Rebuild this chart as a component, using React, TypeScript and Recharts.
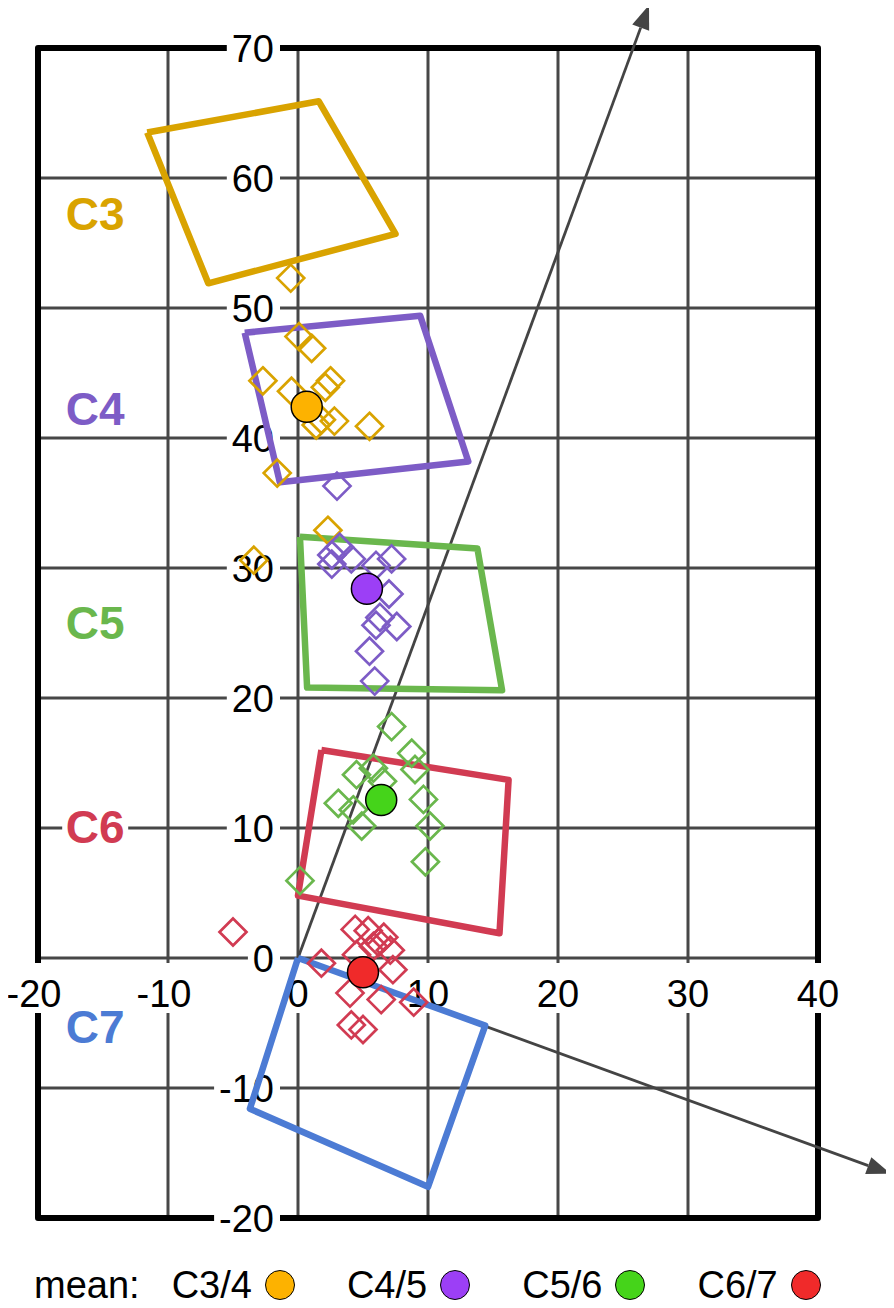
import {
  CartesianGrid,
  ReferenceArea,
  ReferenceLine,
  Scatter,
  ScatterChart,
  XAxis,
  YAxis,
} from "recharts";

// ---------------------------------------------------------------------------
// Data
// ---------------------------------------------------------------------------

const X_TICKS = [-20, -10, 0, 10, 20, 30, 40];
const Y_TICKS = [-20, -10, 0, 10, 20, 30, 40, 50, 60, 70];

// corners of each zone outline
const zoneC3 = [
  { x: -11.6, y: 63.5 },
  { x: 1.6, y: 65.9 },
  { x: 7.5, y: 55.7 },
  { x: -6.9, y: 51.9 },
];
const zoneC4 = [
  { x: -4.1, y: 48.1 },
  { x: 9.4, y: 49.4 },
  { x: 13.1, y: 38.2 },
  { x: -1.4, y: 36.6 },
];
const zoneC5 = [
  { x: 0.15, y: 32.4 },
  { x: 13.8, y: 31.5 },
  { x: 15.7, y: 20.6 },
  { x: 0.7, y: 20.8 },
];
const zoneC6 = [
  { x: 1.8, y: 16.0 },
  { x: 16.2, y: 13.7 },
  { x: 15.5, y: 1.9 },
  { x: 0, y: 4.8 },
];
const zoneC7 = [
  { x: 0, y: 0 },
  { x: 14.4, y: -5.2 },
  { x: 10, y: -17.6 },
  { x: -3.7, y: -11.6 },
];

const zoneLabels = [
  { x: -15.6, y: 57.3, name: "C3" },
  { x: -15.6, y: 42.3, name: "C4" },
  { x: -15.6, y: 25.8, name: "C5" },
  { x: -15.6, y: 10.1, name: "C6" },
  { x: -15.6, y: -5.3, name: "C7" },
];

const c34Points = [
  { x: -0.56, y: 52.3 },
  { x: 0.08, y: 47.8 },
  { x: 1.05, y: 46.9 },
  { x: -2.7, y: 44.4 },
  { x: -0.5, y: 43.6 },
  { x: 2.5, y: 44.4 },
  { x: 2.1, y: 43.9 },
  { x: 1.8, y: 41.4 },
  { x: 1.4, y: 41.0 },
  { x: 2.8, y: 41.3 },
  { x: 5.5, y: 40.9 },
  { x: -1.6, y: 37.3 },
  { x: 2.3, y: 32.9 },
  { x: -3.4, y: 30.6 },
];

const c45Points = [
  { x: 3.0, y: 36.3 },
  { x: 3.2, y: 31.6 },
  { x: 2.6, y: 31.0 },
  { x: 2.6, y: 30.3 },
  { x: 4.1, y: 30.7 },
  { x: 6.0, y: 30.2 },
  { x: 7.2, y: 30.7 },
  { x: 7.0, y: 28.0 },
  { x: 6.3, y: 26.2 },
  { x: 6.0, y: 25.6 },
  { x: 7.6, y: 25.5 },
  { x: 5.5, y: 23.6 },
  { x: 5.9, y: 21.3 },
];

const c56Points = [
  { x: 7.2, y: 17.8 },
  { x: 8.75, y: 15.75 },
  { x: 9.0, y: 14.5 },
  { x: 5.8, y: 14.6 },
  { x: 4.5, y: 14.1 },
  { x: 6.5, y: 13.6 },
  { x: 3.1, y: 11.9 },
  { x: 4.25, y: 11.4 },
  { x: 4.9, y: 10.15 },
  { x: 9.65, y: 12.2 },
  { x: 10.15, y: 10.15 },
  { x: 9.8, y: 7.4 },
  { x: 0.15, y: 5.95 },
];

const c67Points = [
  { x: -5.0, y: 2.0 },
  { x: 4.4, y: 2.2 },
  { x: 5.4, y: 2.1 },
  { x: 6.6, y: 1.6 },
  { x: 6.2, y: 1.2 },
  { x: 7.1, y: 0.6 },
  { x: 5.8, y: 0.9 },
  { x: 4.5, y: 0.25 },
  { x: 1.8, y: -0.4 },
  { x: 7.3, y: -0.9 },
  { x: 4.0, y: -2.7 },
  { x: 6.4, y: -3.2 },
  { x: 8.9, y: -3.4 },
  { x: 4.1, y: -5.15 },
  { x: 5.0, y: -5.5 },
];

const means = [
  { x: 0.67, y: 42.4, name: "C3/4" },
  { x: 5.3, y: 28.4, name: "C4/5" },
  { x: 6.4, y: 12.15, name: "C5/6" },
  { x: 5.0, y: -1.1, name: "C6/7" },
];

const axisArrows = [
  [
    { x: 0, y: 0 },
    { x: 27.0, y: 73.3 },
  ],
  [
    { x: 0, y: 0 },
    { x: 45.6, y: -16.6 },
  ],
];

// ---------------------------------------------------------------------------
// Styling
// ---------------------------------------------------------------------------

const FONT = "'Liberation Sans', Arial, sans-serif";
const GRID = "#474747";
const ARROW = "#444444";

const ZONE_COLORS: Record<string, string> = {
  C3: "#d9a300",
  C4: "#7d5cc6",
  C5: "#6ab74d",
  C6: "#d13b52",
  C7: "#4c7bd4",
};
const MEAN_COLORS: Record<string, string> = {
  "C3/4": "#fdb200",
  "C4/5": "#9c3ff6",
  "C5/6": "#45d41a",
  "C6/7": "#f02a2a",
};

const TICK_SIZE = 38;
const textWidth = (s: string) =>
  s.split("").reduce((w, c) => w + (c === "-" ? 12.7 : 21.1), 0);

const close = (pts: { x: number; y: number }[]) => [...pts, pts[0]];

// ---------------------------------------------------------------------------
// Shapes
// ---------------------------------------------------------------------------

const Nothing = () => <g />;

const diamond = (color: string) => (props: any) => {
  const { cx, cy } = props;
  const r = 13.5;
  return (
    <polygon
      points={`${cx},${cy - r} ${cx + r},${cy} ${cx},${cy + r} ${cx - r},${cy}`}
      fill="none"
      stroke={color}
      strokeWidth={2.7}
    />
  );
};

const MeanDot = (props: any) => {
  const { cx, cy, payload } = props;
  return (
    <circle
      cx={cx}
      cy={cy}
      r={15.5}
      fill={MEAN_COLORS[payload.name]}
      stroke="#000"
      strokeWidth={1.5}
    />
  );
};

const YTickLabel = (props: any) => {
  const { cx, cy, payload } = props;
  const s = String(payload.y);
  const w = textWidth(s);
  return (
    <g>
      <rect x={cx - 24 - w - 5} y={cy - 17} width={w + 11} height={34} fill="#fff" />
      <text
        x={cx - 24}
        y={cy + 13.5}
        textAnchor="end"
        fontFamily={FONT}
        fontSize={TICK_SIZE}
        fill="#000"
      >
        {s}
      </text>
    </g>
  );
};

const XTickLabel = (props: any) => {
  const { cx, cy, payload } = props;
  const s = String(payload.x);
  const w = textWidth(s);
  const shift = payload.x < 0 ? -4 : 0;
  return (
    <g>
      <rect x={cx + shift - w / 2 - 4} y={cy + 5} width={w + 8} height={50} fill="#fff" />
      <text
        x={cx + shift}
        y={cy + 48.5}
        textAnchor="middle"
        fontFamily={FONT}
        fontSize={TICK_SIZE}
        fill="#000"
      >
        {s}
      </text>
    </g>
  );
};

const ZoneLabel = (props: any) => {
  const { cx, cy, payload } = props;
  return (
    <g>
      <rect x={cx - 33} y={cy - 20} width={66} height={40} fill="#fff" />
      <text
        x={cx}
        y={cy + 16.5}
        textAnchor="middle"
        fontFamily={FONT}
        fontWeight="bold"
        fontSize={46}
        fill={ZONE_COLORS[payload.name]}
      >
        {payload.name}
      </text>
    </g>
  );
};

const ArrowShape = (props: any) => {
  const { x1, y1, x2, y2 } = props;
  const dx = x2 - x1;
  const dy = y2 - y1;
  const len = Math.hypot(dx, dy);
  const ux = dx / len;
  const uy = dy / len;
  const head = 24;
  const half = 9;
  const bx = x2 - ux * head;
  const by = y2 - uy * head;
  return (
    <g>
      <line x1={x1} y1={y1} x2={bx} y2={by} stroke={ARROW} strokeWidth={2.8} />
      <polygon
        points={`${x2},${y2} ${bx - uy * half},${by + ux * half} ${bx + uy * half},${by - ux * half}`}
        fill={ARROW}
      />
    </g>
  );
};

// ---------------------------------------------------------------------------
// Component
// ---------------------------------------------------------------------------

const zones: [string, { x: number; y: number }[]][] = [
  ["C3", zoneC3],
  ["C4", zoneC4],
  ["C5", zoneC5],
  ["C6", zoneC6],
  ["C7", zoneC7],
];

const clusters: [string, { x: number; y: number }[]][] = [
  ["C3", c34Points],
  ["C4", c45Points],
  ["C5", c56Points],
  ["C6", c67Points],
];

export default function App() {
  const yTickData = Y_TICKS.map((y) => ({ x: 0, y }));
  const xTickData = X_TICKS.map((x) => ({ x, y: 0 }));

  return (
    <div style={{ position: "relative", width: 886, height: 1300, fontFamily: FONT }}>
      <ScatterChart
        width={886}
        height={1300}
        margin={{ top: 40, right: 76, bottom: 90, left: 30 }}
      >
        <XAxis type="number" dataKey="x" domain={[-20, 40]} ticks={X_TICKS} hide />
        <YAxis type="number" dataKey="y" domain={[-20, 70]} ticks={Y_TICKS} hide />
        <CartesianGrid stroke={GRID} strokeWidth={3} />
        <ReferenceArea
          x1={-20}
          x2={40}
          y1={-20}
          y2={70}
          fill="none"
          fillOpacity={0}
          stroke="#000"
          strokeWidth={6}
          strokeLinejoin="round"
        />

        <Scatter data={yTickData} shape={YTickLabel} isAnimationActive={false} />
        <Scatter data={xTickData} shape={XTickLabel} isAnimationActive={false} />
        <Scatter data={zoneLabels} shape={ZoneLabel} isAnimationActive={false} />

        {zones.map(([name, pts]) => (
          <Scatter
            key={name}
            data={close(pts)}
            line={{
              stroke: ZONE_COLORS[name],
              strokeWidth: 6.5,
              strokeLinejoin: "round",
            }}
            lineType="joint"
            shape={Nothing}
            isAnimationActive={false}
          />
        ))}

        {axisArrows.map((seg, i) => (
          <ReferenceLine
            key={i}
            segment={seg}
            ifOverflow="visible"
            stroke={ARROW}
            shape={ArrowShape}
          />
        ))}

        {clusters.map(([name, pts]) => (
          <Scatter
            key={name}
            data={pts}
            shape={diamond(ZONE_COLORS[name])}
            isAnimationActive={false}
          />
        ))}

        <Scatter data={means} shape={MeanDot} isAnimationActive={false} />
      </ScatterChart>

      <div
        style={{
          position: "absolute",
          top: 1258,
          left: 26,
          display: "flex",
          alignItems: "center",
          fontSize: 38,
          lineHeight: "38px",
          color: "#000",
          whiteSpace: "nowrap",
        }}
      >
        <span style={{ marginRight: 32 }}>mean:</span>
        {means.map((m) => (
          <span
            key={m.name}
            style={{ display: "flex", alignItems: "center", marginRight: 52 }}
          >
            <span>{m.name}</span>
            <span
              style={{
                display: "inline-block",
                width: 28,
                height: 28,
                marginLeft: 13,
                borderRadius: "50%",
                background: MEAN_COLORS[m.name],
                border: "1.5px solid #000",
              }}
            />
          </span>
        ))}
      </div>
    </div>
  );
}
